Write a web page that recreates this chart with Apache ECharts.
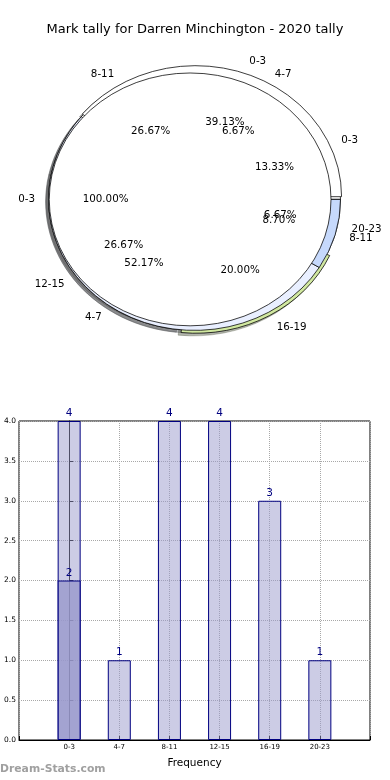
<!DOCTYPE html>
<html>
<head>
<meta charset="utf-8">
<script src="https://cdn.jsdelivr.net/npm/echarts/dist/echarts.min.js"></script>
<style>
  html, body { margin: 0; padding: 0; background: #fff; }
  #chart { width: 390px; height: 780px; }
</style>
</head>
<body>
<div id="chart"></div>
<script>
// ---------- data ----------
const chartTitle = 'Mark tally for Darren Minchington - 2020 tally';
const categories = ['0-3', '4-7', '8-11', '12-15', '16-19', '20-23'];
const barTotals = [4, 1, 4, 4, 3, 1];
const barHighlight = [2, null, null, null, null, null];
const xAxisTitle = 'Frequency';
const watermark = 'Dream-Stats.com';

const pieALabels = ['0-3'];
const pieAValues = [2];
const pieBLabels = ['0-3', '4-7', '8-11', '12-15', '16-19', '20-23'];
const pieBValues = [2, 1, 4, 4, 3, 1];
const pieCLabels = ['0-3', '4-7', '8-11'];
const pieCValues = [9, 12, 2];

// ---------- styles / layout ----------
const PIE = { cx: 194.5, cy: 199.4, rx: 146, ry: 131 };
const FONT = '"DejaVu Sans", "Liberation Sans", sans-serif';
const pieStyleB = { radius: 1.0, explode: [0, 0, 0, 0, 0.025, 0],
  colors: ['#ffffff', '#ffffff', '#ffffff', '#ffffff', '#d1e8a0', '#ffffff'] };
const pieStyleC = { radius: 1.0, explode: [0.022, 0, 0],
  colors: ['#ffffff', '#e9efff', '#c6d9fc'] };
const pieStyleA = { radius: 0.965, explode: [0.03], colors: ['#ffffff'] };

function geom(values, i, st) {
  const total = values.reduce((a, b) => a + b, 0);
  let before = 0;
  for (let k = 0; k < i; k++) before += values[k];
  const t1 = 2 * Math.PI * before / total;
  const t2 = 2 * Math.PI * (before + values[i]) / total;
  const tm = (t1 + t2) / 2;
  const e = st.explode[i] || 0;
  const cx = PIE.cx + e * PIE.rx * Math.cos(tm);
  const cy = PIE.cy - e * PIE.ry * Math.sin(tm);
  return { t1, t2, tm, cx, cy, frac: values[i] / total, full: values[i] / total >= 0.9999 };
}

function hexToRgb(h) {
  const n = parseInt(h.slice(1), 16);
  return [(n >> 16) & 255, (n >> 8) & 255, n & 255];
}

function wedgeShape(g, st, dx, dy, style) {
  const r = PIE.rx * st.radius;
  if (g.full) {
    return { type: 'circle', x: g.cx + dx, y: g.cy + dy, scaleY: PIE.ry / PIE.rx,
      shape: { cx: 0, cy: 0, r: r }, style: style };
  }
  return { type: 'sector', x: g.cx + dx, y: g.cy + dy, scaleY: PIE.ry / PIE.rx,
    shape: { cx: 0, cy: 0, r0: 0, r: r, startAngle: -g.t2, endAngle: -g.t1, clockwise: true },
    style: style };
}

function shadowSeries(values, st, z) {
  return {
    type: 'custom', coordinateSystem: 'none', z: z, silent: true,
    data: values,
    renderItem: function (params, api) {
      const i = params.dataIndex;
      const g = geom(values, i, st);
      const c = hexToRgb(st.colors[i]).map(v => Math.round(v * 0.3));
      const col = 'rgba(' + c.join(',') + ',0.4)';
      return wedgeShape(g, st, -0.02 * PIE.rx, 0.02 * PIE.ry,
        { fill: col, stroke: col, lineWidth: 0.8, strokeNoScale: true });
    }
  };
}

function wedgeSeries(values, st, z) {
  return {
    type: 'custom', coordinateSystem: 'none', z: z, silent: true,
    data: values,
    renderItem: function (params, api) {
      const i = params.dataIndex;
      const g = geom(values, i, st);
      return wedgeShape(g, st, 0, 0,
        { fill: st.colors[i], stroke: '#000', lineWidth: 0.8, strokeNoScale: true });
    }
  };
}

function labelSeries(values, labels, st, z) {
  return {
    type: 'custom', coordinateSystem: 'none', z: z, silent: true,
    data: values,
    renderItem: function (params, api) {
      const i = params.dataIndex;
      const g = geom(values, i, st);
      const r = st.radius;
      const c = Math.cos(g.tm), s = Math.sin(g.tm);
      const lx = g.cx + 1.1 * r * PIE.rx * c;
      const ly = g.cy - 1.1 * r * PIE.ry * s;
      const px = g.cx + 0.6 * r * PIE.rx * c;
      const py = g.cy - 0.6 * r * PIE.ry * s;
      return {
        type: 'group',
        children: [
          { type: 'text', x: lx, y: ly, style: { text: labels[i], fill: '#000',
            fontSize: 10.3, fontFamily: FONT, align: c > 1e-9 ? 'left' : 'right', verticalAlign: 'middle' } },
          { type: 'text', x: px, y: py, style: { text: (g.frac * 100).toFixed(2) + '%', fill: '#000',
            fontSize: 10.3, fontFamily: FONT, align: 'center', verticalAlign: 'middle' } }
        ]
      };
    }
  };
}

const chart = echarts.init(document.getElementById('chart'), null, { renderer: 'canvas' });

const option = {
  animation: false,
  backgroundColor: '#ffffff',
  title: {
    text: chartTitle, left: 'center', top: 23, padding: 0,
    textStyle: { fontSize: 13, fontWeight: 'normal', color: '#000', fontFamily: FONT }
  },
  grid: { left: 19, right: 20, top: 421, bottom: 40, show: true, borderColor: '#000', borderWidth: 1, backgroundColor: 'transparent' },
  xAxis: {
    type: 'value', min: -1, max: 6, interval: 1,
    name: xAxisTitle, nameLocation: 'middle', nameGap: 18,
    nameTextStyle: { fontSize: 10.5, color: '#000', fontFamily: FONT },
    axisLine: { show: true, lineStyle: { color: '#000', width: 1 } },
    axisTick: { show: true, inside: true, length: 4, lineStyle: { color: '#000' } },
    axisLabel: { fontSize: 7, color: '#000', fontFamily: FONT, margin: 4,
      formatter: function (v) { return categories[v] !== undefined ? categories[v] : ''; } },
    splitLine: { show: true, lineStyle: { type: 'dotted', color: '#a8a8a8', width: 1 } }
  },
  yAxis: {
    type: 'value', min: 0, max: 4, interval: 0.5,
    axisLine: { show: true, lineStyle: { color: '#000', width: 1 } },
    axisTick: { show: true, inside: true, length: 4, lineStyle: { color: '#000' } },
    axisLabel: { fontSize: 7.5, color: '#000', fontFamily: FONT, margin: 3,
      formatter: function (v) { return v.toFixed(1); } },
    splitLine: { show: true, lineStyle: { type: 'dotted', color: '#a8a8a8', width: 1 } }
  },
  graphic: [
    { type: 'text', left: 0, top: 764, z: 100,
      style: { text: watermark, fill: '#a0a0a0', fontSize: 10.8, fontWeight: 'bold', fontFamily: FONT } }
  ],
  series: [
    shadowSeries(pieBValues, pieStyleB, 1),
    shadowSeries(pieCValues, pieStyleC, 1),
    shadowSeries(pieAValues, pieStyleA, 1),
    wedgeSeries(pieBValues, pieStyleB, 2),
    wedgeSeries(pieCValues, pieStyleC, 3),
    wedgeSeries(pieAValues, pieStyleA, 4),
    labelSeries(pieBValues, pieBLabels, pieStyleB, 10),
    labelSeries(pieCValues, pieCLabels, pieStyleC, 10),
    labelSeries(pieAValues, pieALabels, pieStyleA, 10),
    {
      type: 'bar', name: 'total', barWidth: 23, barGap: '-100%', z: 5,
      data: barTotals.map((v, i) => [i, v]),
      itemStyle: { color: 'rgba(153,153,204,0.5)', borderColor: '#000080', borderWidth: 1 },
      label: { show: true, position: 'top', distance: 2, color: '#000080', fontSize: 10.5, fontFamily: FONT }
    },
    {
      type: 'bar', name: 'highlight', barWidth: 23, barGap: '-100%', z: 6,
      data: barHighlight.map((v, i) => [i, v]),
      itemStyle: { color: 'rgba(153,153,204,0.8)', borderColor: '#000080', borderWidth: 1 },
      label: { show: true, position: 'top', distance: 2, color: '#000080', fontSize: 10.5, fontFamily: FONT }
    }
  ]
};
chart.setOption(option);
</script>
</body>
</html>
